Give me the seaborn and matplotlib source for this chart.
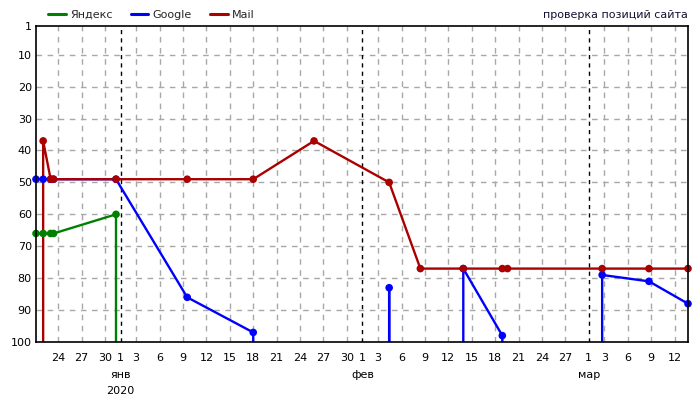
import matplotlib
matplotlib.use("Agg")
import matplotlib.pyplot as plt
from matplotlib.lines import Line2D
import seaborn as sns
import pandas as pd

# ---------------- data ----------------
check_times = ["2019-12-21 04:00", "2019-12-22 02:00", "2019-12-23 01:00", "2019-12-23 10:00",
               "2019-12-31 10:00", "2020-01-09 13:00", "2020-01-18 00:00", "2020-01-25 19:00",
               "2020-02-04 10:00", "2020-02-08 10:00", "2020-02-13 22:00", "2020-02-18 22:00",
               "2020-02-19 14:00", "2020-03-02 17:00", "2020-03-08 17:00", "2020-03-13 17:00"]
yandex = [66, 66, 66, 66, 60, None, None, None, None, None, None, None, None, None, None, None]
google = [49, 49, 49, 49, 49, 86, 97, None, 83, None, 77, 98, None, 79, 81, 88]
mail = [None, 37, 49, 49, 49, 49, 49, 37, 50, 77, 77, 77, 77, 77, 77, 77]
series_names = ["Яндекс", "Google", "Mail"]
series_values = [yandex, google, mail]
series_colors = ["#008000", "#0000ff", "#aa0000"]
y_ticks = [1, 10, 20, 30, 40, 50, 60, 70, 80, 90, 100]
month_names = {1: "янв", 2: "фев", 3: "мар", 12: "дек"}
year_label = "2020"
corner_text = "проверка позиций сайта"

NOT_FOUND = 115  # position outside top-100 (drawn below the axis, clipped)

# ---------------- build table ----------------
times = pd.to_datetime(check_times)
rows = []
for name, vals in zip(series_names, series_values):
    n = len(vals)
    for i, (t, v) in enumerate(zip(times, vals)):
        if v is None:
            continue
        prev_missing = i > 0 and vals[i - 1] is None
        next_missing = i < n - 1 and vals[i + 1] is None
        if prev_missing:
            rows.append((name, t, NOT_FOUND, False))
        rows.append((name, t, v, True))
        if next_missing:
            rows.append((name, t, NOT_FOUND, False))
df = pd.DataFrame(rows, columns=["engine", "time", "pos", "found"])

sns.set_theme(style="white")
plt.rcParams["font.family"] = ["DejaVu Sans"]

fig = plt.figure(figsize=(7, 4), dpi=100)
ax = fig.add_axes([36 / 700, 58 / 400, 652 / 700, 316 / 400])

palette = dict(zip(series_names, series_colors))

# grid
x0, x1 = times[0], times[-1]
tick_days = [d for d in pd.date_range(x0.normalize(), x1.normalize(), freq="D")
             if (d.day == 1 or d.day % 3 == 0) and x0 <= d <= x1]
for d in tick_days:
    if d.day == 1:
        ax.axvline(d, color="black", lw=1, linestyle=(0, (3, 3)), zorder=1)
    else:
        ax.axvline(d, color="#a8a8a8", lw=1, linestyle=(0, (4, 4)), zorder=0.5)
for y in y_ticks[1:-1]:
    ax.axhline(y, color="#a8a8a8", lw=1, linestyle=(0, (4, 4)), zorder=0.5)

sns.lineplot(data=df, x="time", y="pos", hue="engine", hue_order=series_names,
             palette=palette, estimator=None, sort=False, lw=1.7, ax=ax,
             legend=False, zorder=2)
sns.scatterplot(data=df[df["found"]], x="time", y="pos", hue="engine",
                hue_order=series_names, palette=palette, s=30, linewidth=0,
                legend=False, ax=ax, clip_on=False, zorder=3)

ax.set_xlim(x0, x1)
ax.set_ylim(100, 1)
ax.set_yticks(y_ticks)
ax.set_yticklabels([str(v) for v in y_ticks])

ax.set_xticks(tick_days)
ax.set_xticklabels([str(d.day) for d in tick_days])
for d in tick_days:
    if d.day == 1:
        ax.annotate(month_names[d.month], xy=(d, 0), xycoords=("data", "axes fraction"),
                    xytext=(0, -25.7), textcoords="offset points", ha="center",
                    va="baseline", fontsize=8, color="black")
        if d.month == 1:
            ax.annotate(year_label, xy=(d, 0), xycoords=("data", "axes fraction"),
                        xytext=(0, -37.4), textcoords="offset points", ha="center",
                        va="baseline", fontsize=8, color="black")

ax.tick_params(axis="x", length=0, pad=8, labelsize=8, colors="black")
ax.tick_params(axis="y", length=0, pad=3, labelsize=8, colors="black")
ax.set_xlabel("")
ax.set_ylabel("")
for s in ax.spines.values():
    s.set_color("black")
    s.set_linewidth(1.2)
    s.set_visible(True)
    s.set_zorder(4)

handles = [Line2D([0], [0], color=c, lw=2.2) for c in series_colors]
fig.legend(handles, series_names, loc="center left", bbox_to_anchor=(48 / 700, 1 - 15 / 400),
           ncol=3, frameon=False, fontsize=8, handlelength=1.6, handletextpad=0.4,
           columnspacing=1.6, borderpad=0, borderaxespad=0)
fig.text(688 / 700, 1 - 15 / 400, corner_text, ha="right", va="center", fontsize=8,
         color="#111133")

fig.savefig("out.png", dpi=100)
